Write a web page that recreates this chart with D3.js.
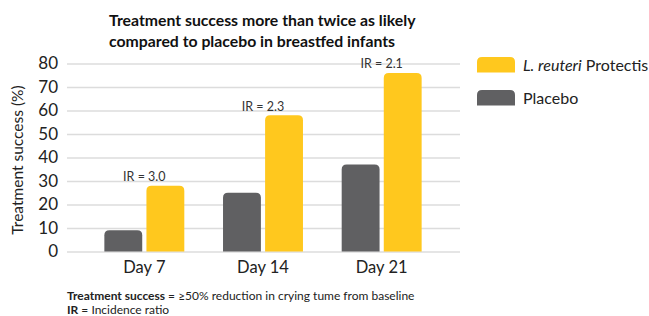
<!DOCTYPE html>
<html>
<head>
<meta charset="utf-8">
<script src="https://cdn.jsdelivr.net/npm/d3@7"></script>
<style>
    body { margin: 0; background: #fff; }
    svg { display: block; font-family: Lato, "Open Sans", sans-serif; }
</style>
</head>
<body>
<svg id="chart" width="649" height="316"></svg>
<script>

const days = ["Day 7", "Day 14", "Day 21"];
const seriesNames = ["Placebo", "L. reuteri Protectis"];
const placeboValues = [9, 25, 37];
const reuteriValues = [28, 58, 76];
const incidenceRatios = ["IR = 3.0", "IR = 2.3", "IR = 2.1"];
const yTicks = [0, 10, 20, 30, 40, 50, 60, 70, 80];

const colors = {"Placebo": "#606062", "L. reuteri Protectis": "#FFC81E"};

// rect with only the top corners rounded
const topRoundedRect = (x, y, w, h, r) => {
    r = Math.min(r, h, w / 2);
    return `M${x},${y + h}V${y + r}Q${x},${y} ${x + r},${y}H${x + w - r}Q${x + w},${y} ${x + w},${y + r}V${y + h}Z`;
}

const drawChart = () => {

    const svg = d3.select("#chart");

    const rows = days.map((d, i) => ({
        day: d,
        ir: incidenceRatios[i],
        values: [
            {name: seriesNames[0], value: placeboValues[i]},
            {name: seriesNames[1], value: reuteriValues[i]}
        ]
    }));

    const x0 = d3.scaleBand()
        .domain(days)
        .range([85, 441]);

    const x1 = d3.scaleBand()
        .domain(seriesNames)
        .range([0, x0.bandwidth()])
        .paddingInner(0.1)
        .paddingOuter(0.46);

    const y = d3.scaleLinear()
        .domain([0, 80])
        .range([251.5, 63.5]);

    //gridlines + tick labels
    const yAxis = g => g
        .attr("transform", "translate(67,0)")
        .call(d3.axisLeft(y).tickValues(yTicks).tickSize(-393).tickPadding(9))
        .call(g => g.select(".domain").remove())
        .call(g => g.selectAll(".tick line").attr("stroke", "#dcdcdc").attr("stroke-width", 1.3))
        .call(g => g.selectAll(".tick text")
            .attr("font-size", 17)
            .attr("fill", "#222")
            .attr("font-family", "Lato, sans-serif"));

    svg.append("g").call(yAxis);

    const xAxis = g => g
        .attr("transform", "translate(0,251.5)")
        .call(d3.axisBottom(x0).tickSize(0).tickPadding(10))
        .call(g => g.select(".domain").remove())
        .call(g => g.selectAll(".tick text")
            .attr("font-size", 16.5)
            .attr("fill", "#222")
            .attr("font-family", "Lato, sans-serif"));

    svg.append("g").call(xAxis);

    const groups = svg.append("g")
        .selectAll("g")
        .data(rows)
        .join("g")
        .attr("transform", d => `translate(${x0(d.day)},0)`);

    groups.selectAll("path")
        .data(d => d.values)
        .join("path")
        .attr("fill", d => colors[d.name])
        .attr("d", d => topRoundedRect(x1(d.name), y(d.value), x1.bandwidth(), y(0) - y(d.value), 5));

    //incidence ratio labels above the protectis bar
    groups.append("text")
        .attr("x", x0.bandwidth() / 2)
        .attr("y", d => y(d.values[1].value) - 9)
        .attr("dy", "0.35em")
        .attr("text-anchor", "middle")
        .attr("font-size", 12.5)
        .attr("fill", "#333")
        .text(d => d.ir);

    //y axis title
    svg.append("text")
        .attr("transform", "translate(23,160) rotate(-90)")
        .attr("text-anchor", "middle")
        .attr("font-size", 15.5)
        .attr("fill", "#222")
        .text("Treatment success (%)");

    //chart title
    const title = svg.append("text")
        .attr("font-size", 15.8)
        .attr("font-weight", "bold")
        .attr("fill", "#111");

    title.append("tspan").attr("x", 109).attr("y", 26).text("Treatment success more than twice as likely");
    title.append("tspan").attr("x", 109).attr("y", 47).text("compared to placebo in breastfed infants");

    //legend
    const legendItems = [seriesNames[1], seriesNames[0]];
    const legend = svg.append("g")
        .selectAll("g")
        .data(legendItems)
        .join("g")
        .attr("transform", (d, i) => `translate(477,${57 + i * 33})`);

    legend.append("path")
        .attr("fill", d => colors[d])
        .attr("d", topRoundedRect(0, 0, 38, 15.5, 5));

    const legendText = legend.append("text")
        .attr("x", 46)
        .attr("y", 8)
        .attr("dy", "0.35em")
        .attr("font-size", 16)
        .attr("fill", "#222");

    legendText.filter(d => d === seriesNames[1])
        .call(t => t.append("tspan").attr("font-style", "italic").text("L. reuteri"))
        .call(t => t.append("tspan").text(" Protectis"));

    legendText.filter(d => d === seriesNames[0])
        .text(d => d);

    //footnote
    const note = svg.append("g")
        .attr("font-size", 12)
        .attr("fill", "#222");

    const line1 = note.append("text").attr("x", 67).attr("y", 300);
    line1.append("tspan").attr("font-weight", "bold").text("Treatment success");
    line1.append("tspan").text(" = \u226550% reduction in crying tume from baseline");

    const line2 = note.append("text").attr("x", 67).attr("y", 313.5);
    line2.append("tspan").attr("font-weight", "bold").text("IR");
    line2.append("tspan").text(" = Incidence ratio");
}

drawChart();

</script>
</body>
</html>
